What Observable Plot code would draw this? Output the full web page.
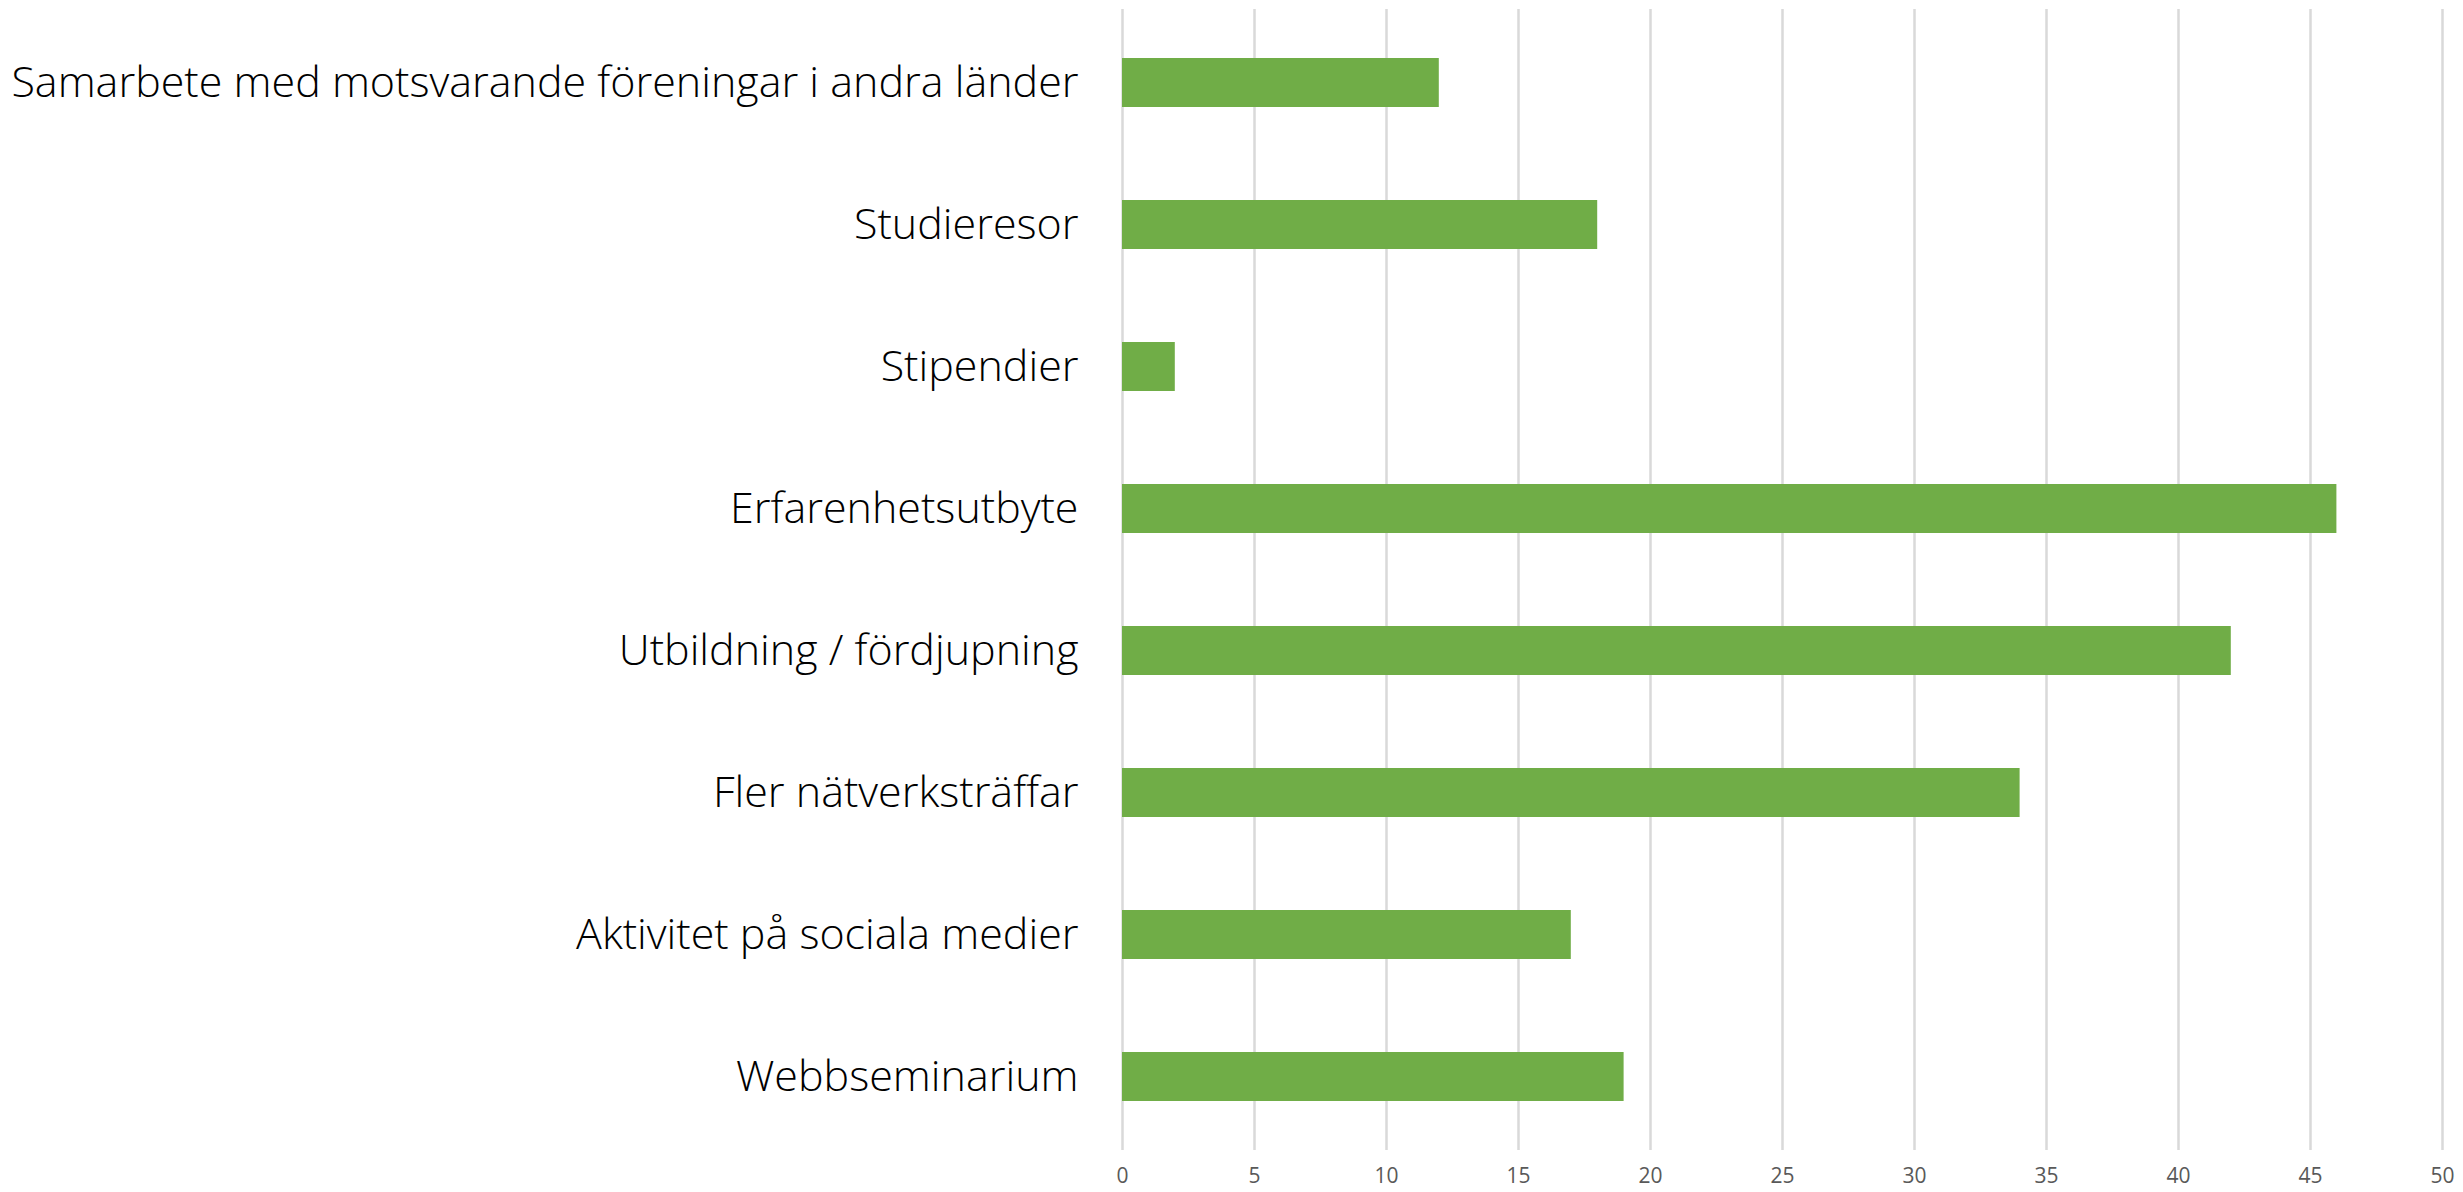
<!DOCTYPE html>
<html>
<head>
<meta charset="utf-8">
<script src="https://cdn.jsdelivr.net/npm/d3@7"></script>
<script src="https://cdn.jsdelivr.net/npm/@observablehq/plot@0.6"></script>
<style>
  html, body { margin: 0; padding: 0; background: #fff; }
  #chart svg { display: block; }
</style>
</head>
<body>
<div id="chart"></div>
<script>
const categories = [
  "Samarbete med motsvarande föreningar i andra länder",
  "Studieresor",
  "Stipendier",
  "Erfarenhetsutbyte",
  "Utbildning / fördjupning",
  "Fler nätverksträffar",
  "Aktivitet på sociala medier",
  "Webbseminarium"
];
const values = [12, 18, 2, 46, 42, 34, 17, 19];
const xTicks = [0, 5, 10, 15, 20, 25, 30, 35, 40, 45, 50];

const data = categories.map((c, i) => ({category: c, value: values[i]}));

const chart = Plot.plot({
  width: 2463,
  height: 1192,
  marginLeft: 1122,
  marginRight: 21,
  marginTop: 9,
  marginBottom: 42,
  style: {fontFamily: "'Open Sans', sans-serif", background: "#fff"},
  x: {domain: [0, 50], ticks: xTicks},
  y: {domain: categories, paddingInner: 0.656, paddingOuter: 0.328},
  marks: [
    Plot.gridX(xTicks, {stroke: "#d9d9d9", strokeOpacity: 1, strokeWidth: 2.5}),
    Plot.barX(data, {x: "value", y: "category", fill: "#70ad47"}),
    Plot.axisX(xTicks, {tickSize: 0, tickPadding: 18, fontSize: 21, fill: "#595959", label: null}),
    Plot.axisY({tickSize: 0, tickPadding: 44, fontSize: 43, fontWeight: 300, fill: "#000", label: null})
  ]
});
document.getElementById("chart").appendChild(chart);
</script>
</body>
</html>
